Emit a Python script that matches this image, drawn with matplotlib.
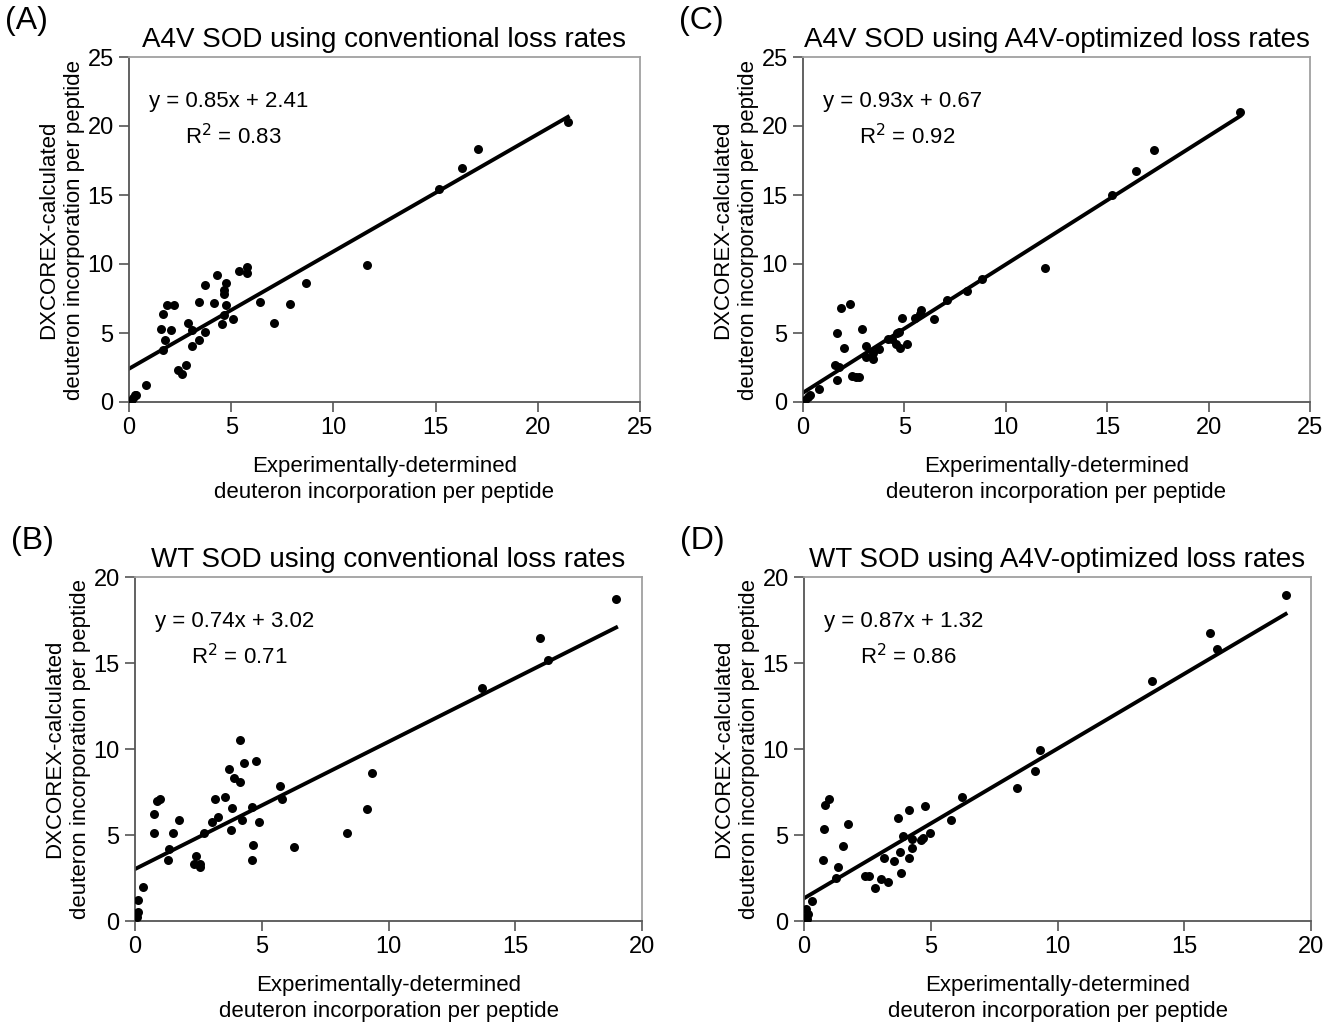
import numpy as np
import matplotlib
matplotlib.use('Agg')
import matplotlib.pyplot as plt

plt.rcParams['font.family'] = ['Liberation Sans', 'DejaVu Sans']

#%% Dati

# (A) A4V SOD, conventional loss rates
a_x = [0.1, 0.2, 0.3, 0.34, 0.82, 1.58, 1.65, 1.74, 1.65, 1.84, 2.22, 2.04, 2.41, 2.58, 2.77,
       2.87, 3.07, 3.07, 3.42, 3.42, 3.72, 3.72, 4.17, 4.29, 4.56, 4.65, 4.65, 4.74, 4.74, 4.65,
       5.1, 5.38, 5.75, 5.75, 6.4, 7.08, 7.9, 8.66, 11.64, 15.16, 16.3, 17.07, 21.47]
a_y = [0.1, 0.3, 0.5, 0.5, 1.2, 5.3, 3.8, 4.5, 6.4, 7.0, 7.0, 5.2, 2.3, 2.0, 2.7,
       5.75, 5.2, 4.06, 7.27, 4.5, 5.1, 8.5, 7.15, 9.2, 5.65, 8.1, 7.8, 8.65, 7.0, 6.3,
       6.0, 9.5, 9.76, 9.33, 7.27, 5.75, 7.1, 8.65, 9.93, 15.43, 16.96, 18.33, 20.3]

# (C) A4V SOD, A4V-optimized loss rates
c_x = [0.1, 0.26, 0.35, 0.8, 1.66, 1.58, 1.79, 1.66, 1.86, 2.32, 2.04, 2.4, 2.61, 2.78, 2.89,
       3.09, 3.09, 3.47, 3.47, 3.76, 4.2, 4.37, 4.58, 4.78, 4.65, 4.75, 4.86, 5.14, 5.52, 5.77,
       5.82, 6.46, 7.1, 8.07, 8.81, 11.93, 15.24, 16.4, 17.3, 21.55]
c_y = [0.15, 0.38, 0.5, 0.92, 1.6, 2.68, 2.56, 5.0, 6.84, 7.1, 3.94, 1.88, 1.79, 1.83, 5.29,
       4.06, 3.28, 3.09, 3.53, 3.82, 4.6, 4.6, 4.2, 3.89, 4.98, 5.1, 6.1, 4.2, 6.1, 6.38,
       6.67, 6.0, 7.39, 8.07, 8.9, 9.71, 15.0, 16.74, 18.26, 21.0]

# (B) WT SOD, conventional loss rates
b_x = [0.07, 0.13, 0.1, 0.33, 0.76, 0.76, 0.86, 0.99, 1.29, 1.36, 1.51, 1.75, 2.34, 2.57, 2.57,
       2.41, 2.72, 3.03, 3.26, 3.16, 3.55, 3.71, 3.79, 3.84, 3.92, 4.14, 4.14, 4.21, 4.3, 4.6,
       4.6, 4.67, 4.76, 4.91, 5.72, 5.8, 6.26, 8.35, 9.16, 9.35, 13.7, 15.98, 16.3, 18.98]
b_y = [0.25, 0.54, 1.22, 2.0, 6.2, 5.1, 6.98, 7.09, 3.55, 4.2, 5.1, 5.87, 3.31, 3.16, 3.31,
       3.78, 5.1, 5.77, 6.07, 7.09, 7.19, 8.86, 5.29, 6.55, 8.3, 8.06, 10.52, 5.87, 9.2, 6.65,
       3.55, 4.42, 9.3, 5.77, 7.87, 7.09, 4.32, 5.1, 6.51, 8.6, 13.55, 16.45, 15.17, 18.72]

# (D) WT SOD, A4V-optimized loss rates
d_x = [0.09, 0.16, 0.09, 0.13, 0.32, 0.75, 0.77, 0.84, 0.99, 1.28, 1.34, 1.52, 1.74, 2.4, 2.55,
       2.79, 3.02, 3.16, 3.31, 3.54, 3.69, 3.78, 3.84, 3.91, 4.15, 4.15, 4.26, 4.26, 4.6, 4.68,
       4.76, 4.96, 5.79, 6.25, 8.4, 9.11, 9.3, 13.73, 16.0, 16.3, 19.0]
d_y = [0.72, 0.39, 0.16, 0.1, 1.16, 3.57, 5.35, 6.76, 7.1, 2.49, 3.15, 4.34, 5.66, 2.6, 2.6,
       1.93, 2.47, 3.69, 2.26, 3.46, 6.0, 4.0, 2.8, 4.92, 6.45, 3.69, 4.77, 4.23, 4.69, 4.81,
       6.66, 5.12, 5.89, 7.2, 7.74, 8.73, 9.94, 13.94, 16.75, 15.81, 18.95]

# regressione (dal grafico)
fits = {'A': (0.85, 2.41, 0.83), 'C': (0.93, 0.67, 0.92),
        'B': (0.74, 3.02, 0.71), 'D': (0.87, 1.32, 0.86)}

titles = {'A': 'A4V SOD using conventional loss rates',
          'C': 'A4V SOD using A4V-optimized loss rates',
          'B': 'WT SOD using conventional loss rates',
          'D': 'WT SOD using A4V-optimized loss rates'}

data = {'A': (a_x, a_y), 'C': (c_x, c_y), 'B': (b_x, b_y), 'D': (d_x, d_y)}
lims = {'A': 25, 'C': 25, 'B': 20, 'D': 20}

W, H = 1327, 1029
boxes = {'A': (129, 57, 640, 402), 'C': (803, 57, 1310, 402),
         'B': (135, 577, 642, 921), 'D': (804, 577, 1311, 921)}

fig = plt.figure(figsize=(W / 100, H / 100), dpi=100)

for key in ['A', 'C', 'B', 'D']:
    l, t, r, b = boxes[key]
    ax = fig.add_axes([l / W, 1 - b / H, (r - l) / W, (b - t) / H])
    x, y = data[key]
    m, q, r2 = fits[key]
    lim = lims[key]
    ax.scatter(x, y, s=42, color='black', zorder=3, linewidths=0)
    xl = np.array([0, max(x)])
    ax.plot(xl, m * xl + q, color='black', lw=2.8, zorder=2)
    ax.set_xlim(0, lim)
    ax.set_ylim(0, lim)
    ax.set_xticks(np.arange(0, lim + 1, 5))
    ax.set_yticks(np.arange(0, lim + 1, 5))
    for s in ['top', 'right']:
        ax.spines[s].set_color('#a0a0a0')
        ax.spines[s].set_linewidth(1.3)
    for s in ['left', 'bottom']:
        ax.spines[s].set_color('#555555')
        ax.spines[s].set_linewidth(1.3)
    ax.tick_params(direction='out', length=7, width=1.2, color='#555555',
                   labelsize=17, pad=4)
    ax.set_title(titles[key], fontsize=20, pad=7)
    ax.set_xlabel('Experimentally-determined\ndeuteron incorporation per peptide',
                  fontsize=16, labelpad=12, linespacing=1.3)
    ax.set_ylabel('DXCOREX-calculated\ndeuteron incorporation per peptide',
                  fontsize=16, labelpad=2, linespacing=1.3)
    ax.text(0.04, 0.87, 'y = %.2fx + %.2f' % (m, q), transform=ax.transAxes,
            fontsize=16, va='center')
    ax.text(0.11, 0.77, r'R$^2$ = %.2f' % r2, transform=ax.transAxes,
            fontsize=16, va='center')
    ax.text((l - 124) / W, 1 - (t - 36) / H, '(%s)' % key, transform=fig.transFigure,
            fontsize=23, va='center', ha='left')

fig.savefig('out.png', dpi=100)
